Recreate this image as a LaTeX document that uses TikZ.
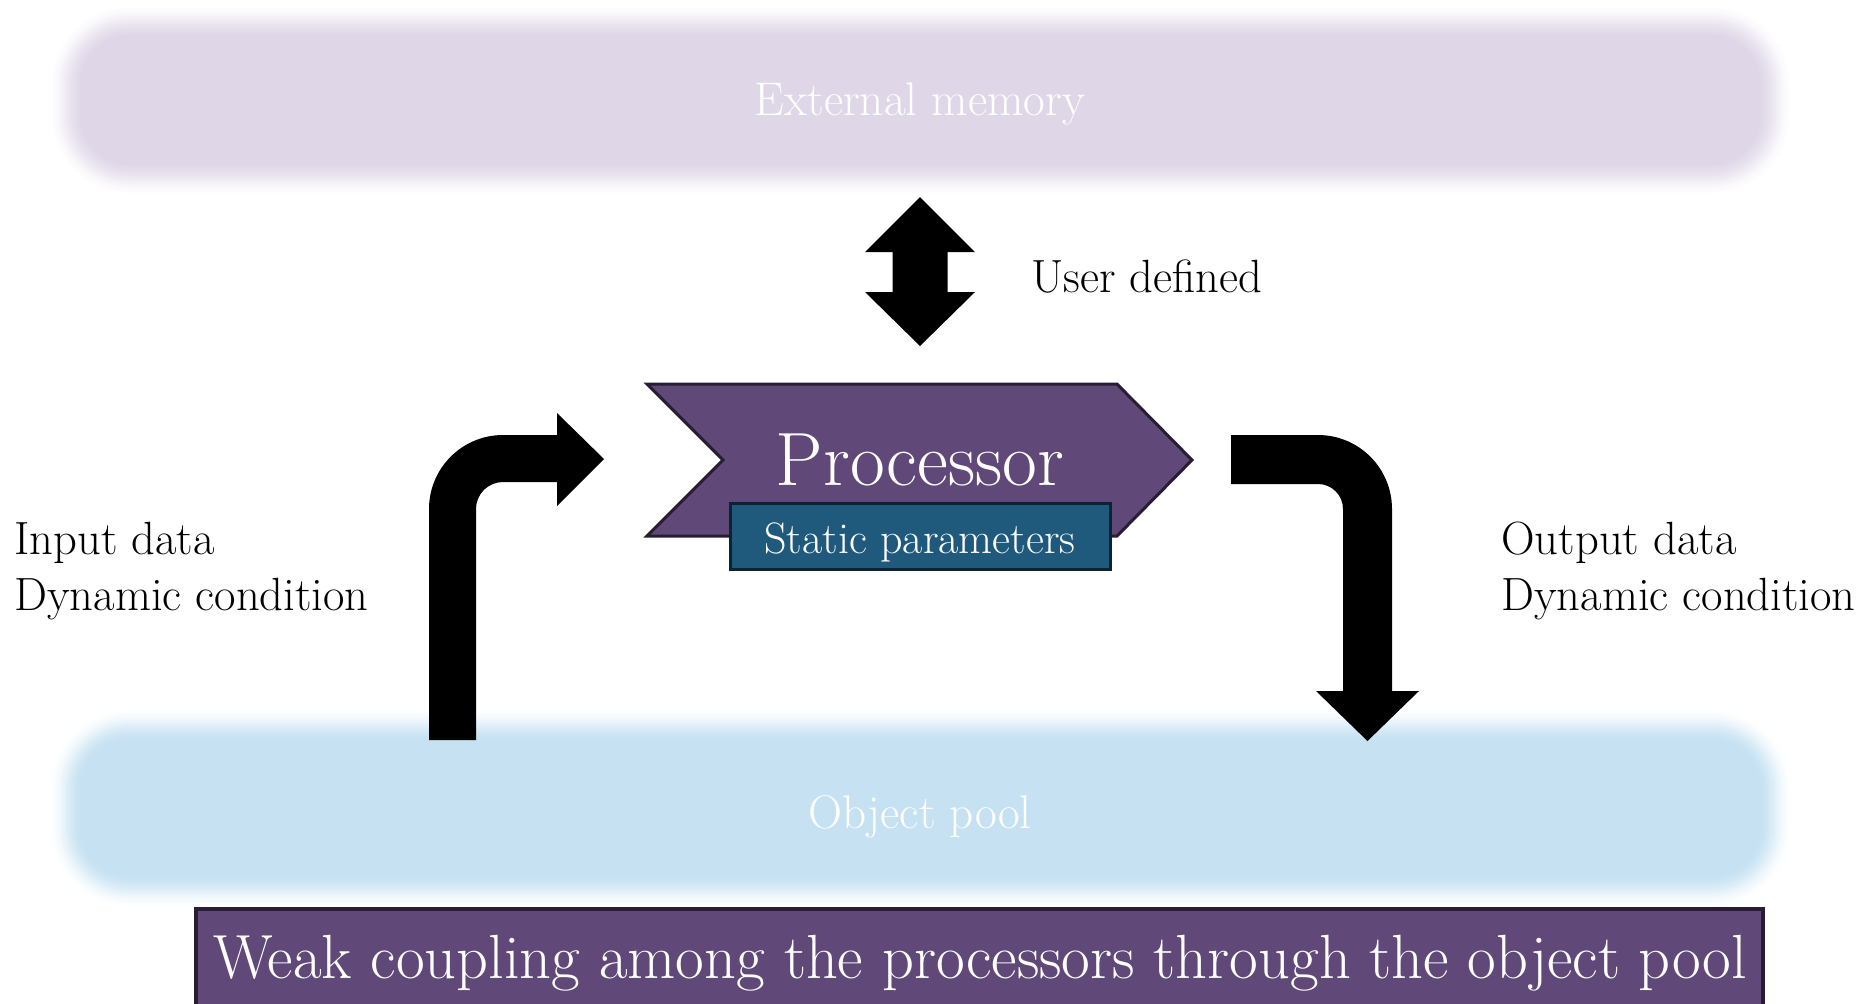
\documentclass[tikz,border=0pt]{standalone}
\usepackage{fontspec}
\setmainfont{Latin Modern Roman}
\definecolor{memfill}{RGB}{223,215,232}
\definecolor{poolfill}{RGB}{197,225,242}
\definecolor{procfill}{RGB}{96,72,120}
\definecolor{procline}{RGB}{40,30,52}
\definecolor{paramfill}{RGB}{31,90,124}
\definecolor{paramline}{RGB}{12,36,50}
\tikzset{
  lbl/.style={inner sep=0pt, anchor=base west, font=\fontsize{23.3}{28}\selectfont},
  paneltxt/.style={inner sep=0pt, anchor=base, text=white, font=\fontsize{23.6}{28}\selectfont},
  proctxt/.style={inner sep=0pt, anchor=base, text=white, font=\fontsize{37.8}{44}\selectfont},
  paramtxt/.style={inner sep=0pt, anchor=base, text=white, font=\fontsize{22}{26}\selectfont},
  bannertxt/.style={inner sep=0pt, anchor=base, text=white, font=\fontsize{31.2}{37}\selectfont},
  procshape/.style={fill=procfill, draw=procline, line width=1.5pt, line join=miter},
  paramshape/.style={fill=paramfill, draw=paramline, line width=1.5pt},
  blockarrow/.style={fill=black}
}
\begin{document}
\begin{tikzpicture}[x=0.5pt,y=-0.5pt]
\useasboundingbox (0,0) rectangle (1870,1003);
\fill[white] (0,0) rectangle (1870,1003);

% soft-edged panels: rings from the outer haze in to the solid core
\foreach \k in {18,17,...,0}{
  \pgfmathsetmacro\o{-18+2*\k}
  \pgfmathsetmacro\p{50*(1+cos(180*\k/18))}
  \pgfmathsetmacro\r{(65+\o)*0.5}
  \fill[memfill!\p!white, rounded corners=\r pt] (65-\o,20-\o) rectangle (1776+\o,180+\o);
  \fill[poolfill!\p!white, rounded corners=\r pt] (65-\o,724-\o) rectangle (1776+\o,892+\o);
}
\node[paneltxt] (mem) at (920,115) {External memory};
\node[paneltxt] (pool) at (920,828) {Object pool};

% two-way arrow between memory and processor
\fill[blockarrow] (920,197) -- (975,252) -- (947.5,252) -- (947.5,292) -- (975,292)
  -- (920,346) -- (865,292) -- (892.5,292) -- (892.5,252) -- (865,252) -- cycle;
\node[lbl] (user) at (1031,292) {User defined};

% processor chevron and its parameter tag
\draw[procshape] (647,384) -- (1117,384) -- (1192,460) -- (1117,536) -- (647,536) -- (723,460) -- cycle;
\node[proctxt] (proc) at (920,485) {Processor};
\draw[paramshape] (730,503) rectangle (1110,569);
\node[paramtxt] (static) at (920,553) {Static parameters};

% input arrow: up from the pool, then right into the processor
\fill[blockarrow] (429,740) -- (429,509) arc[start angle=180, end angle=270, radius=74]
  -- (557,435) -- (557,413) -- (604,459) -- (557,506) -- (557,482) -- (503,482)
  arc[start angle=270, end angle=180, radius=27] -- (476,740) -- cycle;
\node[lbl] (in1) at (14,554) {Input data};
\node[lbl] (in2) at (14,610) {Dynamic condition};

% output arrow: right out of the processor, then down to the pool
\fill[blockarrow] (1231,435) -- (1318,435) arc[start angle=270, end angle=360, radius=74]
  -- (1392,691) -- (1419,691) -- (1367.5,741) -- (1316,691) -- (1343,691) -- (1343,509)
  arc[start angle=0, end angle=-90, radius=25] -- (1231,484) -- cycle;
\node[lbl] (out1) at (1501,554) {Output data};
\node[lbl] (out2) at (1501,610) {Dynamic condition};

% banner along the bottom
\draw[procshape, line width=2pt] (196,909) rectangle (1763,1015);
\node[bannertxt] (banner) at (980,978) {Weak coupling among the processors through the object pool};
\end{tikzpicture}
\end{document}
